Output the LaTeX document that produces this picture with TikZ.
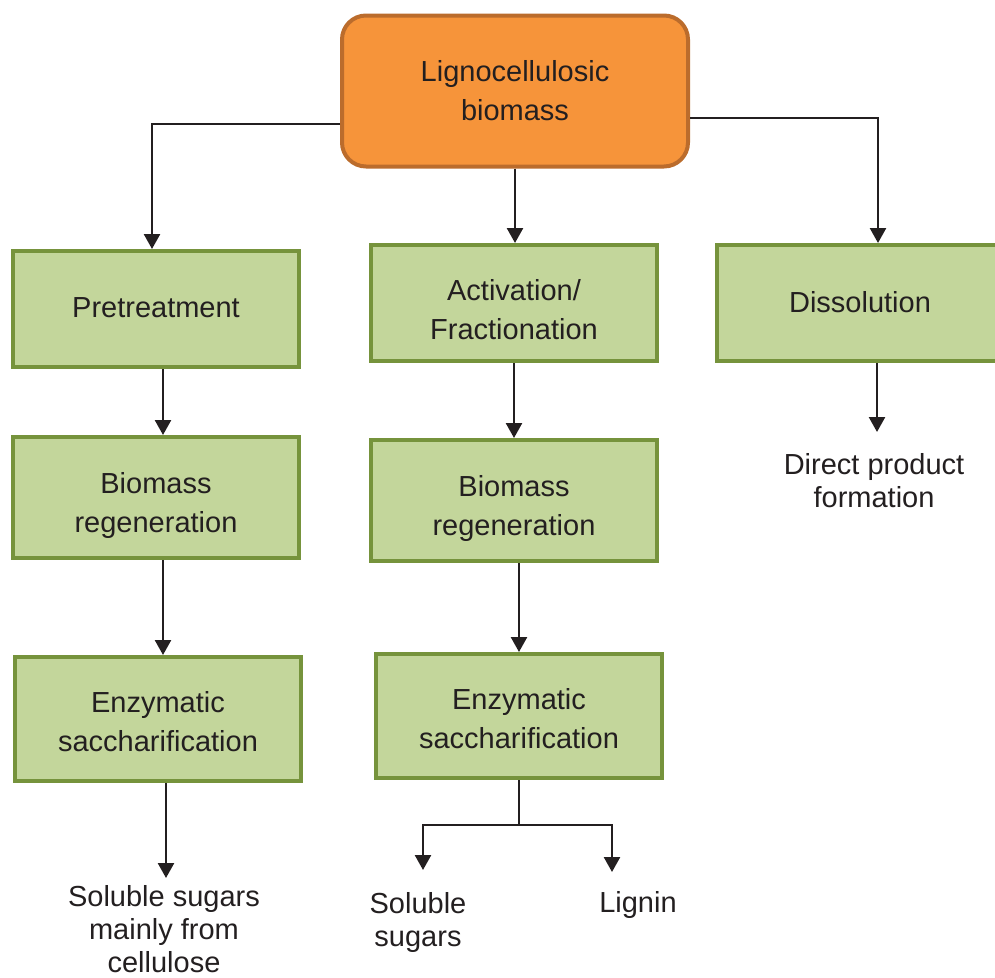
\documentclass[tikz,border=0pt]{standalone}
\usepackage{fontspec}
\setmainfont{Liberation Sans}
\usetikzlibrary{arrows.meta}
\definecolor{orfill}{HTML}{F6943A}
\definecolor{ordraw}{HTML}{BB6C2C}
\definecolor{grfill}{HTML}{C3D69B}
\definecolor{grdraw}{HTML}{76933C}
\definecolor{ink}{HTML}{231F20}
\tikzset{
  gbox/.style={draw=grdraw,fill=grfill,line width=4pt,minimum width=286pt,inner sep=0pt},
  btext/.style={align=center,inner sep=0pt,font=\fontsize{29}{39}\selectfont,text=ink},
  obox/.style={draw=ordraw,fill=orfill,line width=4pt,rounded corners=24pt,minimum width=346pt,minimum height=151pt,
    align=center,inner sep=0pt,font=\fontsize{29}{39}\selectfont,text=ink},
  lbl/.style={align=center,inner sep=0pt,font=\fontsize{29}{33}\selectfont,text=ink},
  arr/.style={draw=ink,line width=2.5pt,-{Triangle[width=16pt,length=15pt]}},
  ln/.style={draw=ink,line width=2.5pt}
}
\begin{document}
\begin{tikzpicture}[x=1pt,y=-1pt]
\useasboundingbox (0,0) rectangle (995,977);
\begin{scope}
\clip (0,0) rectangle (995,977);
\node[obox] (top) at (515,91) {Lignocellulosic\\biomass};
\node[gbox,minimum height=116pt,label={[btext,yshift=1pt]center:Pretreatment}] (P) at (156,309) {};
\node[gbox,minimum height=116pt,label={[btext,yshift=-6.5pt]center:Activation/\\Fractionation}] (A) at (514,303) {};
\node[gbox,minimum height=116pt,label={[btext,yshift=1pt]center:Dissolution}] (D) at (860,303) {};
\node[gbox,minimum height=121pt,label={[btext,yshift=-7.5pt]center:Biomass\\regeneration}] (BL) at (156,497.5) {};
\node[gbox,minimum height=121pt,label={[btext,yshift=-7.5pt]center:Biomass\\regeneration}] (BM) at (514,500.5) {};
\node[gbox,minimum height=124pt,label={[btext,yshift=-2.5pt]center:Enzymatic\\saccharification}] (EL) at (158,719) {};
\node[gbox,minimum height=124pt,label={[btext,yshift=-2.5pt]center:Enzymatic\\saccharification}] (EM) at (519,716) {};
\end{scope}
\node[lbl] (t1) at (164,929.5) {Soluble sugars\\mainly from\\cellulose};
\node[lbl] (t2) at (418,922) {Soluble\\sugars};
\node[lbl] (t3) at (638,905) {Lignin};
\node[lbl] (t4) at (874,481) {Direct product\\formation};
\coordinate (c1) at (166,878);
\coordinate (c4) at (877,432);
\coordinate (split) at (519,825);
\coordinate (sl) at (423,870);
\coordinate (sr) at (612,872);
% connectors
\draw[arr] ([yshift=-33pt]top.west) -| ([xshift=-4pt]P.north);
\draw[arr] ([yshift=-27pt]top.east) -| ([xshift=18pt]D.north);
\draw[arr] (top.south) -- (top.south |- A.north);
\draw[arr] ([xshift=7pt]P.south) -- ([xshift=7pt]BL.north);
\draw[arr] ([xshift=7pt]BL.south) -- ([xshift=5pt]EL.north);
\draw[arr] ([xshift=8pt]EL.south) -- (c1);
\draw[arr] (A.south) -- (BM.north);
\draw[arr] ([xshift=5pt]BM.south) -- (EM.north);
\draw[arr] ([xshift=17pt]D.south) -- (c4);
\draw[ln] (EM.south) -- (split);
\draw[arr] (split) -| (sl);
\draw[arr] (split) -| (sr);
\end{tikzpicture}
\end{document}
